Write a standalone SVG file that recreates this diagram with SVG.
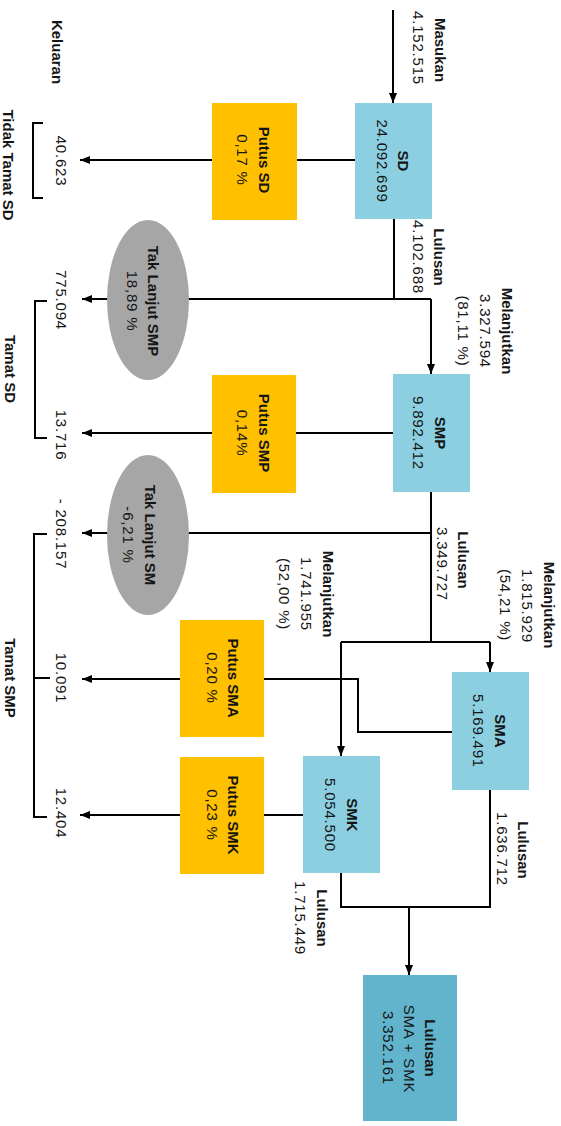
<svg xmlns="http://www.w3.org/2000/svg" width="561" height="1126" viewBox="0 0 561 1126">
<style>
text{font-family:"Liberation Sans",Arial,sans-serif;font-size:15px;fill:#151515;text-anchor:middle;dominant-baseline:central}
.b{font-weight:bold;letter-spacing:0}
.r{letter-spacing:0.8px}
.blue{fill:#8BCFE1}
.dblue{fill:#62B4CC}
.org{fill:#FFC000}
.ell{fill:#A6A6A6}
.ln{fill:none;stroke:#000;stroke-width:2}
</style>
<defs>
<marker id="ah" viewBox="0 0 10 10" refX="10" refY="5" markerWidth="10" markerHeight="10" markerUnits="userSpaceOnUse" orient="auto">
<path d="M0,1 L10,5 L0,9 Z" fill="#000"/>
</marker>
</defs>
<rect width="561" height="1126" fill="#fff"/>
<g id="connectors">
<path class="ln" d="M393,10 V103" marker-end="url(#ah)"/>
<path class="ln" d="M355,160 H80" marker-end="url(#ah)"/>
<path class="ln" d="M394,219 V299"/>
<path class="ln" d="M431,299 H82" marker-end="url(#ah)"/>
<path class="ln" d="M431,299 V374" marker-end="url(#ah)"/>
<path class="ln" d="M393,433 H82" marker-end="url(#ah)"/>
<path class="ln" d="M431,492 V642"/>
<path class="ln" d="M431,533 H82" marker-end="url(#ah)"/>
<path class="ln" d="M341,642 H490"/>
<path class="ln" d="M490,642 V672" marker-end="url(#ah)"/>
<path class="ln" d="M341,642 V756" marker-end="url(#ah)"/>
<path class="ln" d="M452,732 H358 V679 H82" marker-end="url(#ah)"/>
<path class="ln" d="M303,815 H80" marker-end="url(#ah)"/>
<path class="ln" d="M490,790 V907 H341 V873"/>
<path class="ln" d="M409,907 V975" marker-end="url(#ah)"/>
<path class="ln" d="M43,123 H33 V198 H43"/>
<path class="ln" d="M47,301 H35 V438 H47"/>
<path class="ln" d="M47,534 H34 V817 H47 M34,678 H50"/>
</g>
<g id="labels">
<text class="b" transform="translate(440,50) rotate(90)">Masukan</text>
<text class="r" transform="translate(418,48) rotate(90)">4.152.515</text>
<text class="b" transform="translate(57,52) rotate(90)">Keluaran</text>
<text class="b" transform="translate(8,165) rotate(90)">Tidak Tamat SD</text>
<text class="r" transform="translate(61,161) rotate(90)">40.623</text>
<text class="b" transform="translate(439,257) rotate(90)">Lulusan</text>
<text class="r" transform="translate(418,257) rotate(90)">4.102.688</text>
<text class="b" transform="translate(507,331) rotate(90)">Melanjutkan</text>
<text class="r" transform="translate(485,331) rotate(90)">3.327.594</text>
<text class="r" transform="translate(463,331) rotate(90)">(81,11 %)</text>
<text class="r" transform="translate(61,300) rotate(90)">775.094</text>
<text class="r" transform="translate(61,435) rotate(90)">13.716</text>
<text class="b" transform="translate(10,369) rotate(90)">Tamat SD</text>
<text class="b" transform="translate(463,560) rotate(90)">Lulusan</text>
<text class="r" transform="translate(442,564) rotate(90)">3.349.727</text>
<text class="r" transform="translate(61,534) rotate(90)">- 208.157</text>
<text class="b" transform="translate(549,605) rotate(90)">Melanjutkan</text>
<text class="r" transform="translate(527,606) rotate(90)">1.815.929</text>
<text class="r" transform="translate(505,605) rotate(90)">(54,21 %)</text>
<text class="b" transform="translate(328,594) rotate(90)">Melanjutkan</text>
<text class="r" transform="translate(306,594) rotate(90)">1.741.955</text>
<text class="r" transform="translate(284,594) rotate(90)">(52,00 %)</text>
<text class="r" transform="translate(61,678) rotate(90)">10.091</text>
<text class="b" transform="translate(10,678) rotate(90)">Tamat SMP</text>
<text class="r" transform="translate(61,813) rotate(90)">12.404</text>
<text class="b" transform="translate(523,850) rotate(90)">Lulusan</text>
<text class="r" transform="translate(502,849) rotate(90)">1.636.712</text>
<text class="b" transform="translate(322,918) rotate(90)">Lulusan</text>
<text class="r" transform="translate(300,918) rotate(90)">1.715.449</text>
</g>
<g id="node-sd">
<rect class="blue" x="355" y="103" width="77" height="116"/>
<text class="b" transform="translate(403,161) rotate(90)">SD</text>
<text class="r" transform="translate(382,161) rotate(90)">24.092.699</text>
</g>
<g id="node-putus-sd">
<rect class="org" x="212" y="103" width="85" height="117"/>
<text class="b" transform="translate(264,160) rotate(90)">Putus SD</text>
<text class="r" transform="translate(242,160) rotate(90)">0,17 %</text>
</g>
<g id="node-tak-lanjut-smp">
<ellipse class="ell" cx="148" cy="300" rx="41" ry="80"/>
<text class="b" transform="translate(153,301) rotate(90)">Tak Lanjut SMP</text>
<text class="r" transform="translate(132,301) rotate(90)">18,89 %</text>
</g>
<g id="node-smp">
<rect class="blue" x="393" y="374" width="77" height="118"/>
<text class="b" transform="translate(440,433) rotate(90)">SMP</text>
<text class="r" transform="translate(418,433) rotate(90)">9.892.412</text>
</g>
<g id="node-putus-smp">
<rect class="org" x="212" y="375" width="84" height="118"/>
<text class="b" transform="translate(264,433) rotate(90)">Putus SMP</text>
<text class="r" transform="translate(242,433) rotate(90)">0,14%</text>
</g>
<g id="node-tak-lanjut-sm">
<ellipse class="ell" cx="148" cy="535" rx="41" ry="80"/>
<text class="b" transform="translate(150,535) rotate(90)">Tak Lanjut SM</text>
<text class="r" transform="translate(128,535) rotate(90)">-6,21 %</text>
</g>
<g id="node-putus-sma">
<rect class="org" x="180" y="620" width="84" height="117"/>
<text class="b" transform="translate(233,678) rotate(90)">Putus SMA</text>
<text class="r" transform="translate(212,678) rotate(90)">0,20 %</text>
</g>
<g id="node-sma">
<rect class="blue" x="452" y="672" width="77" height="118"/>
<text class="b" transform="translate(500,731) rotate(90)">SMA</text>
<text class="r" transform="translate(478,731) rotate(90)">5.169.491</text>
</g>
<g id="node-smk">
<rect class="blue" x="303" y="756" width="77" height="117"/>
<text class="b" transform="translate(352,815) rotate(90)">SMK</text>
<text class="r" transform="translate(330,815) rotate(90)">5.054.500</text>
</g>
<g id="node-putus-smk">
<rect class="org" x="180" y="757" width="84" height="117"/>
<text class="b" transform="translate(233,815) rotate(90)">Putus SMK</text>
<text class="r" transform="translate(212,815) rotate(90)">0,23 %</text>
</g>
<g id="node-lulusan">
<rect class="dblue" x="363" y="975" width="94" height="146"/>
<text class="b" transform="translate(430,1048) rotate(90)">Lulusan</text>
<text class="r" transform="translate(409,1049) rotate(90)">SMA + SMK</text>
<text class="r" transform="translate(388,1048) rotate(90)">3.352.161</text>
</g>
</svg>
